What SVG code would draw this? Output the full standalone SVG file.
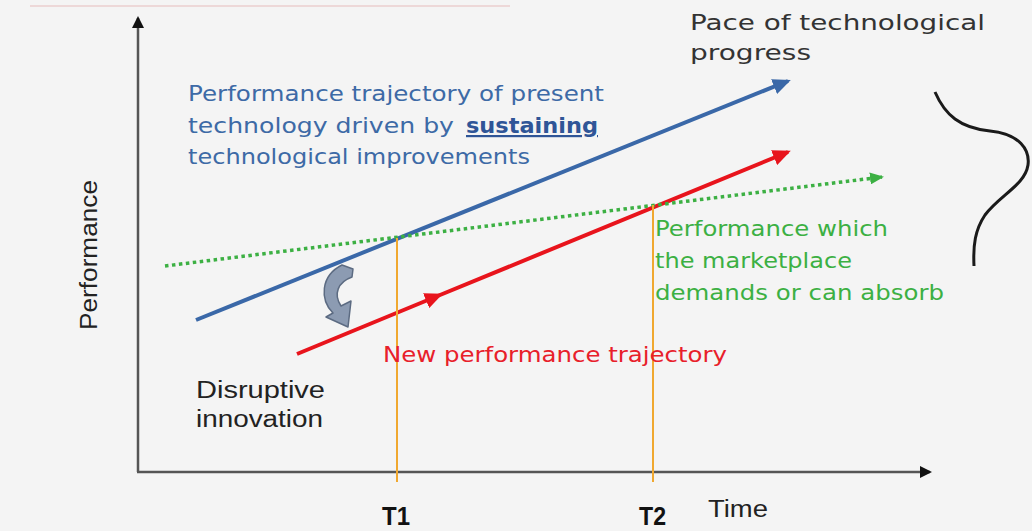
<svg xmlns="http://www.w3.org/2000/svg" width="1032" height="531" viewBox="0 0 1032 531">
<defs>
<style>
.ax{stroke:#555;stroke-width:2.5;fill:none}
.vs{font-family:"DejaVu Sans",Verdana,sans-serif;font-size:22px}
.ar{font-family:"Liberation Sans",Arial,sans-serif;font-size:23px;fill:#222}
.tl{font-family:"Liberation Sans",Arial,sans-serif;font-size:25px;font-weight:bold;fill:#111}
.or{stroke:#f0a830;stroke-width:2;fill:none}
</style>
<marker id="mk" markerWidth="12" markerHeight="12" refX="10" refY="6" orient="auto" markerUnits="userSpaceOnUse"><path d="M0,0 L12,6 L0,12 Z" fill="#111"/></marker>
<marker id="mb" markerWidth="18" markerHeight="16" refX="15" refY="8" orient="auto" markerUnits="userSpaceOnUse"><path d="M0,0 L18,8 L0,16 Z" fill="#3a68a8"/></marker>
<marker id="mr" markerWidth="18" markerHeight="16" refX="15" refY="8" orient="auto" markerUnits="userSpaceOnUse"><path d="M0,0 L18,8 L0,16 Z" fill="#e8141c"/></marker>
<marker id="mg" markerWidth="14" markerHeight="12" refX="12" refY="6" orient="auto" markerUnits="userSpaceOnUse"><path d="M0,0 L14,6 L0,12 Z" fill="#3cb043"/></marker>
</defs>
<rect width="1032" height="531" fill="#f4f4f4"/>
<line x1="30" y1="6" x2="510" y2="6" stroke="#ebcfcf" stroke-width="1.5"/>

<g id="connectors">
<line class="ax" x1="138" y1="472" x2="138" y2="18" marker-end="url(#mk)"/>
<line class="ax" x1="137" y1="472" x2="930" y2="472" marker-end="url(#mk)"/>
<line x1="196" y1="320" x2="788" y2="81" stroke="#3a68a8" stroke-width="4" marker-end="url(#mb)"/>
<polyline points="297,354 440,295 788,152" fill="none" stroke="#e8141c" stroke-width="4" marker-mid="url(#mr)" marker-end="url(#mr)"/>
<line x1="165" y1="266" x2="882" y2="177" stroke="#3cb043" stroke-width="3.5" stroke-dasharray="3.5 3.5" marker-end="url(#mg)"/>
<line class="or" x1="397" y1="238" x2="397" y2="482"/>
<line class="or" x1="653" y1="205" x2="653" y2="482"/>
</g>

<g id="brace">
<path d="M935,92 C945,115 960,128 990,131 C1020,134 1030,150 1028,165 C1025,185 1000,195 985,215 C975,230 973,245 974,266" fill="none" stroke="#1a1a1a" stroke-width="3"/>
</g>

<g id="curved-arrow">
<path d="M342,265 L353,269 L352,277 C338,282 333,294 341,306 L351,301 L348,327 L326,317 L333,313 C320,300 320,276 342,265 Z" fill="#8c9bb2" stroke="#5c6b82" stroke-width="1.5" stroke-linejoin="round"/>
</g>

<g id="pace">
<text class="vs" x="690" y="30" fill="#333" textLength="295" lengthAdjust="spacingAndGlyphs">Pace of technological</text>
<text class="vs" x="690" y="60" fill="#333" textLength="121" lengthAdjust="spacingAndGlyphs">progress</text>
</g>

<g id="sustaining">
<text class="vs" x="188" y="101" fill="#3d6aa6" textLength="416" lengthAdjust="spacingAndGlyphs">Performance trajectory of present</text>
<text class="vs" x="188" y="133" fill="#3d6aa6" textLength="266" lengthAdjust="spacingAndGlyphs">technology driven by</text>
<text class="vs" x="466" y="133" fill="#2f5597" font-weight="bold" text-decoration="underline" textLength="132" lengthAdjust="spacingAndGlyphs">sustaining</text>
<text class="vs" x="188" y="164" fill="#3d6aa6" textLength="342" lengthAdjust="spacingAndGlyphs">technological improvements</text>
</g>

<g id="market">
<text class="vs" x="655" y="236" fill="#3cb043" textLength="233" lengthAdjust="spacingAndGlyphs">Performance which</text>
<text class="vs" x="655" y="268" fill="#3cb043" textLength="197" lengthAdjust="spacingAndGlyphs">the marketplace</text>
<text class="vs" x="655" y="300" fill="#3cb043" textLength="289" lengthAdjust="spacingAndGlyphs">demands or can absorb</text>
</g>

<g id="new-trajectory">
<text class="vs" x="383" y="362" fill="#e8202a" textLength="344" lengthAdjust="spacingAndGlyphs">New performance trajectory</text>
</g>

<g id="disruptive">
<text class="ar" x="196" y="398" textLength="129" lengthAdjust="spacingAndGlyphs">Disruptive</text>
<text class="ar" x="196" y="427" textLength="127" lengthAdjust="spacingAndGlyphs">innovation</text>
</g>

<g id="axis-labels">
<text class="ar" transform="translate(97,330) rotate(-90)" textLength="150" lengthAdjust="spacingAndGlyphs">Performance</text>
<text class="ar" x="708" y="517" textLength="60" lengthAdjust="spacingAndGlyphs">Time</text>
<text class="tl" x="382" y="525" font-size="24" textLength="28" lengthAdjust="spacingAndGlyphs">T1</text>
<text class="tl" x="639" y="525" font-size="24" textLength="27" lengthAdjust="spacingAndGlyphs">T2</text>
</g>
</svg>
